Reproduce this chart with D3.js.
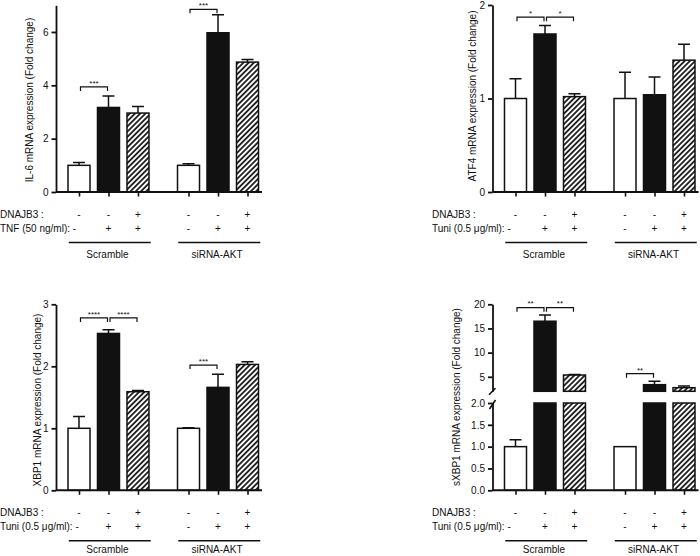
<!DOCTYPE html>
<html>
<head>
<meta charset="utf-8">
<script src="https://cdn.jsdelivr.net/npm/d3@7/dist/d3.min.js"></script>
<style>
  html, body { margin: 0; padding: 0; background: #fff; }
  svg { display: block; }
</style>
</head>
<body>
<div id="chart"></div>
<script>
// ---------------- DATA ----------------
const groups = ["Scramble", "siRNA-AKT"];
const conditionIds = ["S1", "S2", "S3", "A1", "A2", "A3"];
const dnajb3Signs = ["-", "-", "+", "-", "-", "+"];
const treatSigns = ["-", "+", "+", "-", "+", "+"]; // first one is written with the row label

const il6Mean = [1.0, 3.17, 2.96, 1.0, 5.97, 4.87];
const il6Err  = [0.11, 0.43, 0.25, 0.06, 0.68, 0.10];
const il6Ticks = [0, 2, 4, 6];
const il6Sig = [[0, 1, "***", 3.94], [3, 4, "***", 6.85]];

const atf4Mean = [1.0, 1.69, 1.02, 1.0, 1.04, 1.41];
const atf4Err  = [0.21, 0.09, 0.03, 0.28, 0.19, 0.17];
const atf4Ticks = [0, 1, 2];
const atf4Sig = [[0, 1, "*", 1.87], [1, 2, "*", 1.87]];

const xbp1Mean = [1.0, 2.53, 1.59, 1.0, 1.66, 2.03];
const xbp1Err  = [0.19, 0.06, 0.02, 0.01, 0.21, 0.045];
const xbp1Ticks = [0, 1, 2, 3];
const xbp1Sig = [[0, 1, "****", 2.78], [1, 2, "****", 2.78], [3, 4, "***", 2.02]];

const sxbp1Mean = [1.0, 16.5, 5.37, 1.0, 3.37, 2.75];
const sxbp1Err  = [0.16, 1.3, 0.13, 0, 0.7, 0.33];
const sxbp1LowTicks = [0, 0.5, 1.0, 1.5, 2.0];
const sxbp1HighTicks = [5, 10, 15, 20];
const sxbp1Sig = [[0, 1, "**", 19.3], [1, 2, "**", 19.3], [3, 4, "**", 5.64]];

// ---------------- SETUP ----------------
const W = 700, H = 556;
const FONT = "'Liberation Sans', Arial, Helvetica, sans-serif";
const svg = d3.select("#chart").append("svg")
  .attr("width", W).attr("height", H)
  .attr("font-family", FONT);

const defs = svg.append("defs");
const HS = 3.7;
const pat = defs.append("pattern")
  .attr("id", "hatch")
  .attr("patternUnits", "userSpaceOnUse")
  .attr("width", HS).attr("height", HS)
  .attr("patternTransform", "rotate(45)");
pat.append("rect").attr("width", HS).attr("height", HS).attr("fill", "#fff");
pat.append("line").attr("x1", HS / 2).attr("x2", HS / 2).attr("y1", 0).attr("y2", HS)
  .attr("stroke", "#000").attr("stroke-width", 1.6);

const fillFor = i => ["#fff", "#111", "url(#hatch)"][i % 3];

function drawPanel(cfg) {
  const g = svg.append("g");
  const x0 = cfg.x0;
  const outer = d3.scaleBand().domain(groups)
    .range([x0 + 8.25, x0 + 206.25]).paddingInner(0.192).paddingOuter(0);
  const inner = d3.scaleBand().domain([0, 1, 2])
    .range([0, outer.bandwidth()]).paddingInner(0.254).paddingOuter(0.127);
  const bw = inner.bandwidth();
  const xLeft = i => outer(groups[Math.floor(i / 3)]) + inner(i % 3);
  const xc = i => xLeft(i) + bw / 2;
  const xOrd = d3.scaleOrdinal().domain(conditionIds).range(conditionIds.map((d, i) => xc(i)));

  const mean = cfg.mean, err = cfg.err;
  const idx = d3.range(mean.length);
  const yMap = cfg.yMap;

  // bars
  if (!cfg.broken) {
    g.append("g").selectAll("rect").data(idx).join("rect")
      .attr("x", i => xLeft(i)).attr("width", bw)
      .attr("y", i => yMap(mean[i])).attr("height", i => yMap(0) - yMap(mean[i]))
      .attr("fill", i => fillFor(i)).attr("stroke", "#111").attr("stroke-width", 1.5);
  } else {
    const yLo = cfg.yLow, yHi = cfg.yHigh, cut = cfg.cut;
    g.append("g").selectAll("rect").data(idx).join("rect")
      .attr("x", i => xLeft(i)).attr("width", bw)
      .attr("y", i => yLo(Math.min(mean[i], cut)))
      .attr("height", i => yLo(0) - yLo(Math.min(mean[i], cut)))
      .attr("fill", i => fillFor(i)).attr("stroke", "#111").attr("stroke-width", 1.5);
    g.append("g").selectAll("rect").data(idx.filter(i => mean[i] > cut)).join("rect")
      .attr("x", i => xLeft(i)).attr("width", bw)
      .attr("y", i => yHi(mean[i])).attr("height", i => yHi(cut) - yHi(mean[i]))
      .attr("fill", i => fillFor(i)).attr("stroke", "#111").attr("stroke-width", 1.5);
  }

  // error bars
  const eb = g.append("g").attr("stroke", "#111").attr("stroke-width", 1.5).attr("fill", "none");
  eb.selectAll("path").data(idx.filter(i => err[i] > 0)).join("path")
    .attr("d", i => {
      const yt = yMap(mean[i]), ye = yMap(mean[i] + err[i]);
      return `M${xc(i)},${yt}V${ye}M${xc(i) - 6},${ye}H${xc(i) + 6}`;
    });

  // significance brackets
  const sg = g.append("g");
  cfg.sig.forEach(([a, b, lab, lvl]) => {
    const y = yMap(lvl);
    const xa = xc(a) + 1.5, xb = xc(b) - 1;
    sg.append("path")
      .attr("d", `M${xa},${y + 4}V${y}H${xb}V${y + 4}`)
      .attr("fill", "none").attr("stroke", "#111").attr("stroke-width", 1.2);
    sg.append("text").attr("x", (xa + xb) / 2).attr("y", y - 1.2)
      .attr("text-anchor", "middle").attr("font-size", 8).attr("fill", "#111").text(lab);
  });

  // x axis
  const baseY = yMap(0);
  const xa = g.append("g").attr("transform", `translate(0,${baseY})`)
    .call(d3.axisBottom(xOrd).tickSize(4.5).tickFormat(""))
    .call(s => s.select(".domain").remove());
  xa.selectAll("line").attr("stroke", "#111").attr("stroke-width", 1.6);
  g.append("line").attr("x1", x0).attr("x2", Math.min(x0 + 206, W))
    .attr("y1", baseY).attr("y2", baseY)
    .attr("stroke", "#111").attr("stroke-width", 1.9);

  // y axis
  const styleAxis = s => {
    s.attr("font-family", FONT).attr("font-size", 10);
    s.selectAll("path, line").attr("stroke", "#111").attr("stroke-width", 1.8);
    s.selectAll("text").attr("fill", "#111");
  };
  if (!cfg.broken) {
    g.append("g").attr("transform", `translate(${x0},0)`)
      .call(d3.axisLeft(cfg.yScale).tickValues(cfg.ticks).tickSize(4.5).tickSizeOuter(0).tickPadding(3).tickFormat(d3.format("d")))
      .call(styleAxis);
  } else {
    g.append("g").attr("transform", `translate(${x0},0)`)
      .call(d3.axisLeft(cfg.yLow).tickValues(cfg.lowTicks).tickSize(4.5).tickSizeOuter(0).tickPadding(3).tickFormat(d3.format(".1f")))
      .call(styleAxis);
    g.append("g").attr("transform", `translate(${x0},0)`)
      .call(d3.axisLeft(cfg.yHigh).tickValues(cfg.highTicks).tickSize(4.5).tickSizeOuter(0).tickPadding(3).tickFormat(d3.format("d")))
      .call(styleAxis);
    // break marks
    const yb1 = cfg.yHigh(cfg.cut), yb2 = cfg.yLow(cfg.cut);
    g.append("path")
      .attr("d", `M${x0 - 3.5},${yb1 + 3.5}L${x0 + 3},${yb1 - 3}M${x0 - 3},${yb2 + 6}L${x0 + 3},${yb2 - 3}`)
      .attr("stroke", "#111").attr("stroke-width", 1.6).attr("fill", "none");
  }

  // y axis title
  g.append("text")
    .attr("transform", `translate(${cfg.titleX},${cfg.titleY}) rotate(-90)`)
    .attr("text-anchor", "middle").attr("dominant-baseline", "central")
    .attr("font-size", 10).attr("fill", "#111").text(cfg.title);

  // condition rows
  const r1 = baseY + 26, r2 = baseY + 39.5;
  g.append("text").attr("x", cfg.labelX).attr("y", r1).attr("font-size", 10).attr("fill", "#111").text("DNAJB3 :");
  g.append("text").attr("x", cfg.labelX).attr("y", r2).attr("font-size", 10).attr("fill", "#111").text(cfg.treatLabel + " -");
  g.append("g").selectAll("text").data(idx).join("text")
    .attr("x", i => xc(i)).attr("y", r1).attr("text-anchor", "middle")
    .attr("font-size", 10).attr("fill", "#111").text(i => dnajb3Signs[i]);
  g.append("g").selectAll("text").data(idx.slice(1)).join("text")
    .attr("x", i => xc(i)).attr("y", r2).attr("text-anchor", "middle")
    .attr("font-size", 10).attr("fill", "#111").text(i => treatSigns[i]);

  // group lines and labels
  const glY = Math.min(baseY + 66, H - 3.5);
  groups.forEach(gr => {
    const gx1 = outer(gr) + 4.5, gx2 = Math.min(outer(gr) + outer.bandwidth() - 2, W);
    g.append("line").attr("x1", gx1).attr("x2", gx2)
      .attr("y1", baseY + 50.5).attr("y2", baseY + 50.5)
      .attr("stroke", "#111").attr("stroke-width", 1.4);
    g.append("text").attr("x", outer(gr) + outer.bandwidth() / 2 - 1).attr("y", glY)
      .attr("text-anchor", "middle").attr("font-size", 10).attr("fill", "#111").text(gr);
  });
}

// Panel 1: IL-6
{
  const y = d3.scaleLinear().domain([0, 7]).range([192, 5.3]);
  drawPanel({ x0: 56, yScale: y, yMap: y, ticks: il6Ticks, mean: il6Mean, err: il6Err, sig: il6Sig,
    title: "IL-6 mRNA expression (Fold change)", titleX: 29, titleY: 100,
    labelX: 0, treatLabel: "TNF (50 ng/ml):" });
}
// Panel 2: ATF4
{
  const y = d3.scaleLinear().domain([0, 2]).range([192, 5]);
  drawPanel({ x0: 492.5, yScale: y, yMap: y, ticks: atf4Ticks, mean: atf4Mean, err: atf4Err, sig: atf4Sig,
    title: "ATF4 mRNA expression (Fold change)", titleX: 472, titleY: 96,
    labelX: 432, treatLabel: "Tuni (0.5 μg/ml):" });
}
// Panel 3: XBP1
{
  const y = d3.scaleLinear().domain([0, 3]).range([490.3, 304.3]);
  drawPanel({ x0: 56, yScale: y, yMap: y, ticks: xbp1Ticks, mean: xbp1Mean, err: xbp1Err, sig: xbp1Sig,
    title: "XBP1 mRNA expression (Fold change)", titleX: 37, titleY: 400,
    labelX: 0, treatLabel: "Tuni (0.5 μg/ml):" });
}
// Panel 4: sXBP1 (broken axis)
{
  const cut = 2;
  const yLow = d3.scaleLinear().domain([0, cut]).range([490.3, 403]);
  const yHigh = d3.scaleLinear().domain([cut, 20]).range([391.3, 304.3]);
  const yMap = v => v <= cut ? yLow(v) : yHigh(v);
  drawPanel({ x0: 492.5, broken: true, cut, yLow, yHigh, yMap,
    lowTicks: sxbp1LowTicks, highTicks: sxbp1HighTicks,
    mean: sxbp1Mean, err: sxbp1Err, sig: sxbp1Sig,
    title: "sXBP1 mRNA expression (Fold change)", titleX: 456, titleY: 397,
    labelX: 432, treatLabel: "Tuni (0.5 μg/ml):" });
}
</script>
</body>
</html>
